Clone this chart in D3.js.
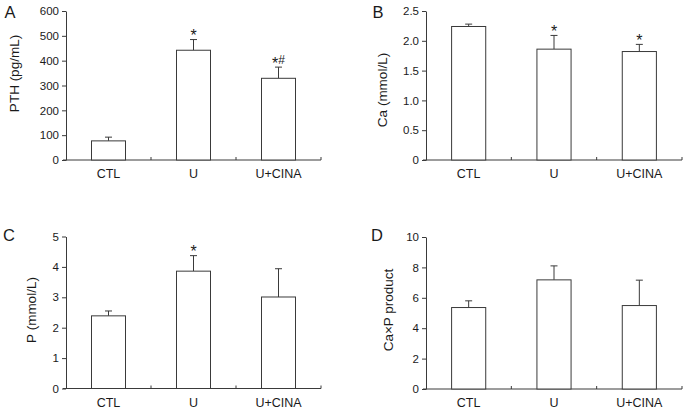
<!DOCTYPE html>
<html><head><meta charset="utf-8">
<script src="https://cdn.jsdelivr.net/npm/d3@7"></script>
<style>
html,body{margin:0;padding:0;background:#fff;}
svg{display:block;font-family:"Liberation Sans",Arial,sans-serif;}
</style></head>
<body>
<svg id="chart" width="685" height="411"></svg>
<script>
const categories = ["CTL", "U", "U+CINA"];

const pthMean = [77, 442, 329];
const pthErr  = [15, 43, 45];
const pthSig  = ["", "*", "*#"];
const pthTicks = [0, 100, 200, 300, 400, 500, 600];

const caMean = [2.24, 1.86, 1.82];
const caErr  = [0.04, 0.23, 0.12];
const caSig  = ["", "*", "*"];
const caTicks = [0, 0.5, 1.0, 1.5, 2.0, 2.5];

const pMean = [2.39, 3.86, 3.01];
const pErr  = [0.16, 0.51, 0.93];
const pSig  = ["", "*", ""];
const pTicks = [0, 1, 2, 3, 4, 5];

const capMean = [5.36, 7.18, 5.49];
const capErr  = [0.44, 0.92, 1.67];
const capSig  = ["", "", ""];
const capTicks = [0, 2, 4, 6, 8, 10];

const panels = [
  {letter:"A", title:"PTH (pg/mL)", mean:pthMean, err:pthErr, sig:pthSig, ticks:pthTicks,
   fmt:d=>String(d), x0:66, x1:321, yT:11, yB:160, titleX:18.5, titleY:73.5, lx:4.5, ly:17.5},
  {letter:"B", title:"Ca (mmol/L)", mean:caMean, err:caErr, sig:caSig, ticks:caTicks,
   fmt:d=>d===0?"0":d.toFixed(1), x0:426, x1:682, yT:11, yB:160, titleX:386.5, titleY:90, lx:372.5, ly:17.5},
  {letter:"C", title:"P (mmol/L)", mean:pMean, err:pErr, sig:pSig, ticks:pTicks,
   fmt:d=>String(d), x0:66, x1:321, yT:236.5, yB:388.5, titleX:36, titleY:310, lx:3, ly:240.5},
  {letter:"D", title:"Ca\u00d7P product", mean:capMean, err:capErr, sig:capSig, ticks:capTicks,
   fmt:d=>String(d), x0:426, x1:682, yT:237, yB:389, titleX:393, titleY:310, lx:371, ly:240.5}
];

const svg = d3.select("#chart");
const ink = "#3a3a3a";
const txt = "#1a1a1a";

panels.forEach(p => {
  const g = svg.append("g");
  const x = d3.scaleBand().domain(categories).range([p.x0, p.x1]).paddingInner(0.6).paddingOuter(0.3);
  const y = d3.scaleLinear().domain([p.ticks[0], p.ticks[p.ticks.length-1]]).range([p.yB, p.yT]);
  const step = x.step();

  // y axis
  const ya = g.append("g").attr("transform", `translate(${p.x0},0)`)
    .call(d3.axisLeft(y).tickValues(p.ticks).tickFormat(p.fmt).tickSize(4).tickSizeOuter(0).tickPadding(3));
  ya.select(".domain").attr("stroke", ink);
  ya.selectAll(".tick line").attr("stroke", ink);
  ya.selectAll(".tick text").attr("fill", txt).style("font-size", "11.5px").style("font-family", "Liberation Sans, Arial, sans-serif");

  // x axis baseline
  g.append("line").attr("x1", p.x0 - 3).attr("x2", p.x1).attr("y1", p.yB).attr("y2", p.yB)
    .attr("stroke", ink).attr("stroke-width", 1);
  // boundary ticks (inward)
  categories.forEach(c => {
    const bx = x(c) + x.bandwidth()/2 + step/2;
    g.append("line").attr("x1", bx).attr("x2", bx).attr("y1", p.yB).attr("y2", p.yB - 3)
      .attr("stroke", ink).attr("stroke-width", 1);
  });
  // category labels
  g.selectAll(".cat").data(categories).join("text")
    .attr("x", d => x(d) + x.bandwidth()/2).attr("y", p.yB + 18)
    .attr("text-anchor", "middle").attr("fill", txt).style("font-size", "12.5px")
    .text(d => d);

  // error bars
  categories.forEach((c, i) => {
    const cx = x(c) + x.bandwidth()/2;
    const top = y(p.mean[i] + p.err[i]);
    g.append("line").attr("x1", cx).attr("x2", cx).attr("y1", y(p.mean[i])).attr("y2", top)
      .attr("stroke", ink).attr("stroke-width", 1);
    g.append("line").attr("x1", cx - 3.5).attr("x2", cx + 3.5).attr("y1", top).attr("y2", top)
      .attr("stroke", ink).attr("stroke-width", 1);
    if (p.sig[i]) {
      const t = g.append("text").attr("x", cx).attr("y", top + 1.5).attr("text-anchor", "middle")
        .attr("fill", txt).style("font-size", "16px");
      p.sig[i].split("").forEach(ch => {
        if (ch === "#") {
          t.append("tspan").attr("dy", -4.8).style("font-size", "12px").text(ch);
        } else {
          t.append("tspan").text(ch);
        }
      });
    }
  });

  // bars
  g.selectAll(".bar").data(categories).join("rect")
    .attr("x", d => x(d)).attr("width", x.bandwidth())
    .attr("y", (d, i) => y(p.mean[i])).attr("height", (d, i) => y(0) - y(p.mean[i]))
    .attr("fill", "#fff").attr("stroke", ink).attr("stroke-width", 1);

  // axis title
  g.append("text").attr("transform", `translate(${p.titleX},${p.titleY}) rotate(-90)`)
    .attr("text-anchor", "middle").attr("fill", txt).style("font-size", "13.5px").text(p.title);

  // panel letter
  g.append("text").attr("x", p.lx).attr("y", p.ly).attr("fill", txt)
    .style("font-size", "16.5px").text(p.letter);
});
</script>
</body></html>
